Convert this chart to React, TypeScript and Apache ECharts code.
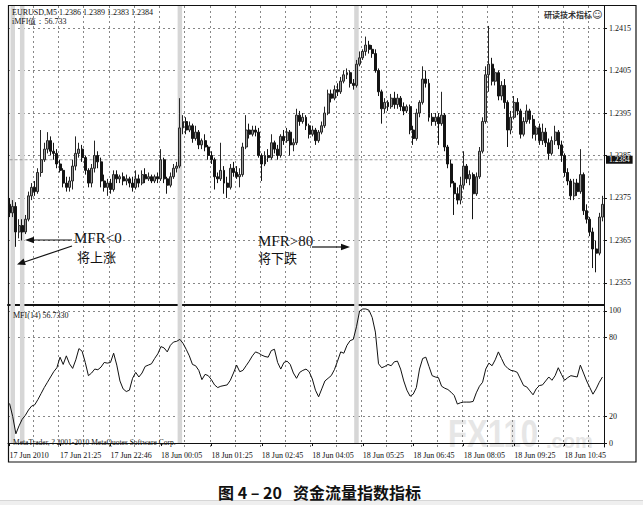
import React, { useEffect, useRef } from 'react';
import * as echarts from 'echarts';

// Prices are stored in pips above PRICE_BASE (1 pip = 0.0001)
const PRICE_BASE = 1.23;

const OPEN = [
  73.5, 71.5, 73, 67, 68.5, 67, 70, 75.5, 77.5, 76.5,
  81, 84, 86.5, 88.5, 86, 85.5, 83, 81.5, 78.5, 77.5,
  79, 82.5, 85.5, 86.5, 84.5, 81.5, 78.5, 82, 85, 83.5,
  79, 77.5, 78.5, 77, 80.5, 79.5, 80, 79, 79.5, 78.5,
  77.5, 79.5, 78.5, 80.5, 79.5, 80, 79, 80, 79.5, 84,
  79.5, 78, 80, 82, 82.5, 91.5, 93, 91, 92, 89,
  90.5, 87.5, 88.5, 87, 85, 84, 80, 79.5, 81.5, 78.5,
  77.5, 82, 81, 80, 80.5, 87, 91, 90, 91, 90.5,
  85, 83, 85, 84.5, 88, 86.5, 85, 89.5, 88.5, 90.5,
  87.5, 88, 94.5, 93, 94, 92, 90, 91, 88.5, 90.5,
  92, 95, 99.5, 98.5, 100.5, 100, 102.5, 104, 104.5, 102,
  101.5, 106.5, 108, 109.5, 111, 110, 109, 105, 100, 96,
  97.5, 96.5, 98.5, 97, 98.5, 96.5, 95.5, 96.5, 91, 89,
  95, 97.5, 103, 102, 94, 93, 94, 92.5, 94.5, 87,
  83, 78.5, 76, 74.5, 78, 82.5, 79.5, 80.5, 76, 80,
  86, 93, 104, 106.5, 102.5, 104.5, 99, 101.5, 97.5, 91,
  94, 97.5, 95.5, 90, 93, 95.5, 93.5, 90, 91.5, 88.5,
  90.5, 88, 85.5, 88.5, 90.5, 87.5, 85, 81, 79, 75.5,
  78.5, 76.5, 80.5, 72, 70, 67, 63, 62, 70.5,
];
const CLOSE = [
  71.5, 73, 67, 68.5, 67, 70, 75.5, 77.5, 76.5, 81,
  84, 86.5, 88.5, 86, 85.5, 83, 81.5, 78.5, 77.5, 79,
  82.5, 85.5, 86.5, 84.5, 81.5, 78.5, 82, 85, 83.5, 79,
  77.5, 78.5, 77, 80.5, 79.5, 80, 79, 79.5, 78.5, 77.5,
  79.5, 78.5, 80.5, 79.5, 80, 79, 80, 79.5, 84, 79.5,
  78, 80, 82, 82.5, 91.5, 93, 91, 92, 89, 90.5,
  87.5, 88.5, 87, 85, 84, 80, 79.5, 81.5, 78.5, 77.5,
  82, 81, 80, 80.5, 87, 91, 90, 91, 90.5, 85,
  83, 85, 84.5, 88, 86.5, 85, 89.5, 88.5, 90.5, 87.5,
  88, 94.5, 93, 94, 92, 90, 91, 88.5, 90.5, 92,
  95, 99.5, 98.5, 100.5, 100, 102.5, 104, 104.5, 102, 101.5,
  106.5, 108, 109.5, 111, 110, 109, 105, 100, 96, 97.5,
  96.5, 98.5, 97, 98.5, 96.5, 95.5, 96.5, 91, 89, 95,
  97.5, 103, 102, 94, 93, 94, 92.5, 94.5, 87, 83,
  78.5, 76, 74.5, 78, 82.5, 79.5, 80.5, 76, 80, 86,
  93, 104, 106.5, 102.5, 104.5, 99, 101.5, 97.5, 91, 94,
  97.5, 95.5, 90, 93, 95.5, 93.5, 90, 91.5, 88.5, 90.5,
  88, 85.5, 88.5, 90.5, 87.5, 85, 81, 79, 75.5, 78.5,
  76.5, 80.5, 72, 70, 67, 63, 62, 70.5, 73.5,
];
const LOW = [
  70.5, 70.5, 63.5, 65.5, 65, 66.5, 69.5, 74.5, 75.5, 76,
  80, 83.5, 85.5, 85, 84, 82, 81, 77.5, 76.5, 76.5,
  77, 81.5, 84.5, 83.5, 80.5, 77.5, 77.5, 81, 82, 77.5,
  76.5, 75.5, 76, 76.5, 78.5, 78.5, 78, 78, 77.5, 76.5,
  77, 77.5, 78, 78.5, 79, 78.5, 78.5, 78.5, 79, 78.5,
  76, 77.5, 79.5, 81, 82, 90, 90, 90.5, 88, 88.5,
  86.5, 86.5, 86, 84, 83, 77, 78.5, 79, 76, 75,
  77, 80, 79.5, 77.5, 80, 86.5, 89, 89.5, 89.5, 84.5,
  79, 82.5, 83.5, 84, 85.5, 84, 84.5, 87.5, 88, 85,
  86, 87.5, 92, 92.5, 91, 89, 89.5, 87.5, 88, 90,
  91.5, 94.5, 97.5, 98, 99, 99.5, 102, 103, 101, 100.5,
  101, 106, 107.5, 108.5, 109, 108, 104.5, 99, 92.5, 95,
  95.5, 96, 96, 96, 95.5, 94.5, 95, 90, 87.5, 88.5,
  94, 97, 101, 93, 92, 92, 87.5, 92, 86, 82,
  77.5, 71, 73.5, 73.5, 77, 78.5, 78, 70, 75.5, 79.5,
  85.5, 92.5, 100, 101.5, 101.5, 98, 98, 96, 87, 90,
  93.5, 94.5, 89, 89.5, 92.5, 92.5, 89, 88.5, 87.5, 87.5,
  87, 84, 85, 87.5, 86.5, 83.5, 80, 78, 74.5, 74.5,
  75.5, 76, 71, 69, 66, 58.5, 57.5, 61.5, 69.5,
];
const HIGH = [
  75, 74.5, 74, 70, 70, 71, 76.5, 78.5, 79, 82,
  91, 88, 90.5, 89.5, 88, 86.5, 84, 82, 80, 80,
  84, 89.5, 88, 87.5, 85, 82, 83, 88.5, 86, 84.5,
  80.5, 79.5, 79.5, 81.5, 81.5, 80.5, 81, 80.5, 80, 80,
  81.5, 80.5, 81.5, 82, 81, 80.5, 80.5, 81, 86.5, 84.5,
  80, 81, 83, 83.5, 98.5, 94.5, 94, 93, 92.5, 92,
  91, 89, 90, 87.5, 86, 84.5, 81, 88, 82.5, 80,
  83, 83.5, 82.5, 82, 88, 94.5, 92.5, 92, 92, 91.5,
  85.5, 86, 86.5, 90, 88.5, 87.5, 90, 91, 91.5, 91,
  89, 96, 95.5, 95, 94.5, 92.5, 92, 91.5, 91, 93,
  96.5, 100.5, 100.5, 101.5, 102, 103.5, 105, 105.5, 105, 103,
  107.5, 109.5, 110, 113, 112, 111, 110, 105.5, 100.5, 98.5,
  98, 99.5, 100, 99.5, 99, 97.5, 97, 97, 92, 96,
  98, 106, 105, 103, 95, 95, 95, 100, 95, 87.5,
  84, 79, 77.5, 80, 86, 83, 81.5, 81, 81, 87,
  94, 106, 115.5, 108, 105.5, 105, 102.5, 103, 98, 95.5,
  99, 98.5, 96, 94, 97, 96, 94.5, 92, 92.5, 92.5,
  91.5, 89, 89.5, 92, 91, 88.5, 85.5, 82, 79.5, 79.5,
  79.5, 86.5, 81, 73.5, 70.5, 68, 65, 71.5, 75.5,
];
const MFI = [
  30, 20, 7, 13, 18, 21, 25, 28, 29, 33,
  37.5, 42, 46, 50, 54, 57, 65, 59.5, 66, 60,
  56.5, 63, 71.5, 69.5, 61, 51, 53, 56, 55.5, 57.5,
  61, 60.5, 61, 68, 59, 47, 41, 39, 40, 49,
  53.5, 50, 53, 58, 59, 60, 64, 67.5, 73, 72,
  69, 74, 76.5, 77, 78.5, 75.5, 71, 66, 59.5, 58.5,
  55, 48, 52, 51, 48, 44, 42, 43, 43.5, 44,
  47.5, 53, 59, 54, 55, 58.5, 62, 66, 69, 68,
  66.5, 65.5, 65, 70, 71, 61, 56, 61, 62, 59.5,
  53, 49, 53.5, 55, 56, 54, 48.5, 40, 35, 41,
  47, 49, 51, 55.5, 62, 69, 68, 74, 77.5, 78.5,
  88, 100, 101.5, 101.5, 100.5, 95, 84, 60, 57, 58,
  59.5, 58.5, 61.5, 62, 56, 47, 40, 35.5, 37, 42,
  56, 64, 65, 58, 51, 50, 49.5, 43, 41.5, 40.5,
  38.5, 36, 29.5, 30.5, 31, 31, 31, 31.5, 38, 43,
  46, 56, 60.5, 58.5, 63, 69, 64, 59, 56.5, 55,
  54.5, 53.5, 48.5, 43.5, 42.5, 39.5, 36.5, 41, 43.5, 44,
  47, 50, 47.5, 51, 57, 52, 47.5, 49.5, 51, 50.5,
  50, 59, 53, 47, 42, 37, 41, 46, 50,
];

const TIME_LABELS = [
  '17 Jun 2010', '17 Jun 21:25', '17 Jun 22:46', '18 Jun 00:05',
  '18 Jun 01:25', '18 Jun 02:45', '18 Jun 04:05', '18 Jun 05:25',
  '18 Jun 06:45', '18 Jun 08:05', '18 Jun 09:25', '18 Jun 10:45',
];
const PRICE_TICKS = [1.2355, 1.2365, 1.2375, 1.2385, 1.2395, 1.2405, 1.2415];
const MFI_TICKS = [0, 20, 80, 100];
const CURRENT_PRICE = 1.2384;
const HIGHLIGHT_BARS = [1, 4, 54, 110];
const PRICE_MIN = 1.23498;
const PRICE_MAX = 1.24202;
const MFI_MIN = -3;
const MFI_MAX = 104.5;
const LABEL_EVERY = 16;
const GRID_EVERY = 8;

const SERIF = '"Liberation Serif", "DejaVu Serif", serif';
const CJK = '"Noto Sans CJK SC", "Noto Sans", sans-serif';

const toPrice = (p: number) => +(PRICE_BASE + p / 10000).toFixed(5);

export default function App() {
  const ref = useRef<HTMLDivElement>(null);

  useEffect(() => {
    if (!ref.current) return;
    const chart = echarts.init(ref.current, null, { renderer: 'svg' });

    const cats = OPEN.map((_, i) => String(i));
    const candles = OPEN.map((o, i) => [toPrice(o), toPrice(CLOSE[i]), toPrice(LOW[i]), toPrice(HIGH[i])]);
    const priceBands = cats.map((_, i) => (HIGHLIGHT_BARS.includes(i) ? PRICE_MAX : null));
    const mfiBands = cats.map((_, i) => (HIGHLIGHT_BARS.includes(i) ? MFI_MAX : null));
    const currentLine = cats.map(() => CURRENT_PRICE);

    const dotted = { color: '#7a7a7a', type: [2, 3] as any, width: 1, opacity: 0.9 };
    const gridLine = { show: true, lineStyle: dotted };
    const vGridLine = { show: true, interval: GRID_EVERY - 1, lineStyle: dotted };

    const txt = (text: string, x: number, y: number, extra: any = {}) => ({
      type: 'text',
      silent: true,
      z: 20,
      style: { text, x, y, fill: '#111', fontSize: 8, fontFamily: SERIF, verticalAlign: 'middle', align: 'left', ...extra },
    });

    const option: any = {
      animation: false,
      backgroundColor: '#ffffff',
      textStyle: { fontFamily: SERIF },
      grid: [
        { left: 8, top: 6, width: 596, height: 299 },
        { left: 8, top: 305, width: 596, height: 142 },
      ],
      xAxis: [
        {
          type: 'category', gridIndex: 0, data: cats, boundaryGap: true,
          axisLine: { show: true, lineStyle: { color: '#111', width: 2 } },
          axisTick: { show: false }, axisLabel: { show: false },
          splitLine: vGridLine,
        },
        {
          type: 'category', gridIndex: 1, data: cats, boundaryGap: true,
          axisLine: { show: true, lineStyle: { color: '#111', width: 1 } },
          axisTick: { show: true, interval: LABEL_EVERY - 1, alignWithLabel: true, length: 3, lineStyle: { color: '#111' } },
          axisLabel: {
            interval: LABEL_EVERY - 1,
            formatter: (_v: string, i: number) => TIME_LABELS[i / LABEL_EVERY] ?? '',
            align: 'left', fontSize: 8, fontFamily: SERIF, color: '#111', margin: 4,
          },
          splitLine: vGridLine,
        },
      ],
      yAxis: [
        {
          type: 'value', gridIndex: 0, position: 'right', min: PRICE_MIN, max: PRICE_MAX,
          axisLine: { show: true, lineStyle: { color: '#111', width: 1 } },
          axisTick: { show: true, customValues: PRICE_TICKS, length: 3, lineStyle: { color: '#111' } },
          axisLabel: { customValues: PRICE_TICKS, formatter: (v: number) => v.toFixed(4), fontSize: 8, fontFamily: SERIF, color: '#111', margin: 5 },
          splitLine: gridLine,
        },
        {
          type: 'value', gridIndex: 1, position: 'right', min: MFI_MIN, max: MFI_MAX,
          axisLine: { show: true, lineStyle: { color: '#111', width: 1 } },
          axisTick: { show: true, customValues: MFI_TICKS, length: 3, lineStyle: { color: '#111' } },
          axisLabel: { customValues: MFI_TICKS, formatter: (v: number) => String(v), fontSize: 8, fontFamily: SERIF, color: '#111', margin: 5 },
          splitLine: gridLine,
        },
        {
          // current-price box on the price scale
          type: 'value', gridIndex: 0, position: 'right', min: PRICE_MIN, max: PRICE_MAX, z: 10,
          axisLine: { show: false }, axisTick: { show: false }, splitLine: { show: false },
          axisLabel: {
            customValues: [CURRENT_PRICE], formatter: (v: number) => v.toFixed(4),
            backgroundColor: '#111', color: '#fff', fontSize: 7.5, fontFamily: SERIF, padding: [0, 3], margin: 2,
          },
        },
      ],
      series: [
        {
          type: 'bar', xAxisIndex: 0, yAxisIndex: 0, data: priceBands, barWidth: 4.5,
          itemStyle: { color: '#d6d6d6' }, silent: true, z: 1,
        },
        {
          type: 'bar', xAxisIndex: 1, yAxisIndex: 1, data: mfiBands, barWidth: 4.5,
          itemStyle: { color: '#d6d6d6' }, silent: true, z: 1,
        },
        {
          type: 'line', xAxisIndex: 0, yAxisIndex: 0, data: currentLine, showSymbol: false, symbol: 'none',
          silent: true, z: 2,
          lineStyle: { color: '#9a9a9a', type: [3, 2] as any, width: 1 },
        },
        {
          type: 'candlestick', xAxisIndex: 0, yAxisIndex: 0, data: candles, barWidth: '78%', z: 3,
          itemStyle: { color: '#9a9a9a', color0: '#141414', borderColor: '#262626', borderColor0: '#141414', borderWidth: 1 },
        },
        {
          type: 'line', xAxisIndex: 1, yAxisIndex: 1, data: MFI, showSymbol: false, symbol: 'none',
          lineStyle: { color: '#111', width: 1 }, z: 3,
        },
      ],
      graphic: [
        // frame
        { type: 'rect', silent: true, z: 30, shape: { x: 8.5, y: 5.5, width: 627.5, height: 456.5 }, style: { fill: 'none', stroke: '#111', lineWidth: 1.2 } },
        // watermark
        { type: 'text', silent: true, z: 0, x: 448, y: 434, scaleX: 0.82, style: { text: 'FX110', x: 0, y: 0, fill: '#e6e6e6', fontSize: 38, fontWeight: 'bold', fontFamily: '"Liberation Sans", Arial, sans-serif', verticalAlign: 'middle' } },
        { type: 'text', silent: true, z: 0, style: { text: '.com', x: 546, y: 441, fill: '#e6e6e6', fontSize: 20, fontWeight: 'bold', fontFamily: '"Liberation Sans", Arial, sans-serif', verticalAlign: 'middle' } },
        // header texts
        txt('EURUSD,M5 1.2386 1.2389 1.2383 1.2384', 12, 12.5),
        txt('iMFI值：56.733', 12, 21.5),
        txt('研读技术指标', 544, 14, { fontFamily: CJK, fontWeight: 'bold', fontSize: 8, fill: '#333' }),
        txt('☺', 592, 14, { fontFamily: '"DejaVu Sans", sans-serif', fontSize: 10, fill: '#333' }),
        txt('MFI(14) 56.7330', 13, 315),
        txt('MetaTrader, ? 2001-2010 MetaQuotes Software Corp.', 13, 442, { fontSize: 7.5 }),
        // annotations
        txt('MFR<0', 74, 238, { fontSize: 15 }),
        txt('将上涨', 77, 256.5, { fontFamily: CJK, fontSize: 13 }),
        { type: 'line', silent: true, z: 20, shape: { x1: 72, y1: 240, x2: 31, y2: 240 }, style: { stroke: '#111', lineWidth: 1.2 } },
        { type: 'polygon', silent: true, z: 20, shape: { points: [[25, 240], [34, 236.8], [34, 243.2]] }, style: { fill: '#111' } },
        { type: 'line', silent: true, z: 20, shape: { x1: 72, y1: 246, x2: 23, y2: 262.5 }, style: { stroke: '#111', lineWidth: 1.2 } },
        { type: 'polygon', silent: true, z: 20, shape: { points: [[17, 264.5], [25.8, 264.9], [23.6, 258.6]] }, style: { fill: '#111' } },
        txt('MFR>80', 258, 240.5, { fontSize: 15 }),
        txt('将下跌', 258, 257, { fontFamily: CJK, fontSize: 13 }),
        { type: 'line', silent: true, z: 20, shape: { x1: 312, y1: 247, x2: 343, y2: 247 }, style: { stroke: '#111', lineWidth: 1.2 } },
        { type: 'polygon', silent: true, z: 20, shape: { points: [[350, 247], [341, 243.8], [341, 250.2]] }, style: { fill: '#111' } },
        // caption
        txt('图 4 – 20', 218, 492, { fontFamily: CJK, fontWeight: 'bold', fontSize: 16, fill: '#111' }),
        txt('资金流量指数指标', 293, 492, { fontFamily: CJK, fontWeight: 'bold', fontSize: 16, fill: '#111' }),
        // page divider
        { type: 'rect', silent: true, z: 1, shape: { x: 0, y: 500, width: 643, height: 5 }, style: { fill: '#efefef' } },
        { type: 'line', silent: true, z: 1, shape: { x1: 0, y1: 500.5, x2: 643, y2: 500.5 }, style: { stroke: '#d6d6d6', lineWidth: 1 } },
      ],
    };

    chart.setOption(option);
    return () => chart.dispose();
  }, []);

  return (
    <div
      ref={ref}
      style={{ position: 'fixed', left: 0, top: 0, width: 643, height: 505, background: '#fff' }}
    />
  );
}
